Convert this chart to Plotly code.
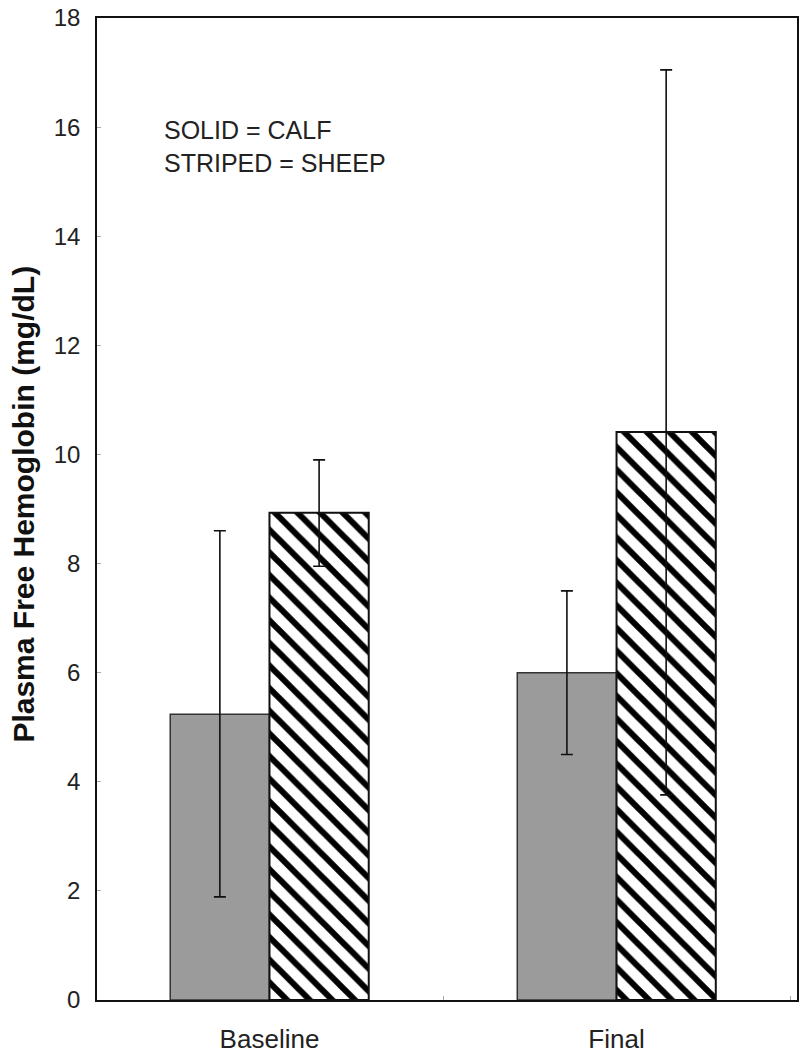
import plotly.graph_objects as go

categories = ["Baseline", "Final"]
calf_values = [5.24, 6.0]
calf_err_plus = [3.36, 1.5]
calf_err_minus = [3.35, 1.5]
sheep_values = [8.93, 10.41]
sheep_err_plus = [0.97, 6.64]
sheep_err_minus = [0.98, 6.65]
y_ticks = [0, 2, 4, 6, 8, 10, 12, 14, 16, 18]

FONT = "Liberation Sans, Arial, sans-serif"

fig = go.Figure()
fig.add_trace(go.Bar(
    x=categories, y=calf_values, name="Calf",
    marker=dict(color="#9b9b9b", line=dict(color="#333333", width=1.5)),
    error_y=dict(type="data", symmetric=False, array=calf_err_plus,
                 arrayminus=calf_err_minus, color="#111111", thickness=1.6, width=6),
))
fig.add_trace(go.Bar(
    x=categories, y=sheep_values, name="Sheep",
    marker=dict(color="white", line=dict(color="#111111", width=2),
                pattern=dict(shape="\\", fgcolor="#000000", bgcolor="white",
                             fgopacity=1, fillmode="replace",
                             size=16, solidity=0.38)),
    error_y=dict(type="data", symmetric=False, array=sheep_err_plus,
                 arrayminus=sheep_err_minus, color="#111111", thickness=1.6, width=6),
))

fig.update_layout(
    width=800, height=1054,
    margin=dict(l=97, r=3, t=18, b=54),
    paper_bgcolor="white", plot_bgcolor="white",
    barmode="group", bargap=0.428, bargroupgap=0,
    showlegend=False,
    font=dict(family=FONT, color="#222222"),
)
fig.update_yaxes(
    range=[0, 18], tickvals=y_ticks, ticktext=[str(v) for v in y_ticks],
    automargin=False,
    showgrid=False, zeroline=False,
    showline=True, mirror=True, linecolor="#111111", linewidth=1.5,
    ticks="inside", ticklen=4, tickcolor="#aaaaaa", tickwidth=1,
    tickfont=dict(size=24, family=FONT, color="#222222"),
    ticklabelstandoff=10,
)
fig.update_xaxes(
    range=[-0.497, 1.52],
    automargin=False,
    showgrid=False, zeroline=False,
    showline=True, mirror=True, linecolor="#111111", linewidth=1.5,
    ticks="inside", ticklen=4, tickcolor="#aaaaaa", tickson="boundaries",
    tickfont=dict(size=26, family=FONT, color="#222222"),
    ticklabelstandoff=15,
)
fig.add_annotation(
    xref="paper", yref="paper", x=-0.105, y=0.505, xanchor="center", yanchor="middle",
    text="<b>Plasma Free Hemoglobin (mg/dL)</b>", textangle=-90, showarrow=False,
    font=dict(size=30, family=FONT, color="#111111"),
)
fig.add_annotation(
    xref="paper", yref="paper", x=0.093, y=0.902, xanchor="left", yanchor="top",
    text="SOLID = CALF<br>STRIPED = SHEEP", align="left", showarrow=False,
    font=dict(size=25, family=FONT, color="#222222"),
)

fig.write_html(
    "out.html",
    config={"displayModeBar": False},
    post_script="document.body.style.margin='0';document.body.style.padding='0';",
)
